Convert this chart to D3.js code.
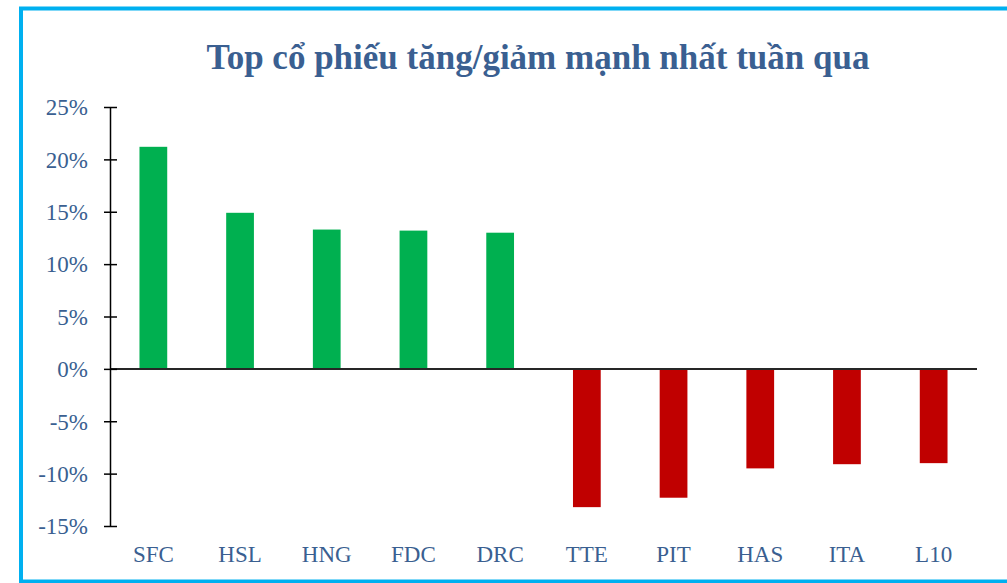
<!DOCTYPE html>
<html>
<head>
<meta charset="utf-8">
<script src="https://cdn.jsdelivr.net/npm/d3@7"></script>
<style>
  body { margin: 0; background: #fff; }
  svg { display: block; }
</style>
</head>
<body>
<div id="chart"></div>
<script>
// data
var tickers = ["SFC", "HSL", "HNG", "FDC", "DRC", "TTE", "PIT", "HAS", "ITA", "L10"];
var changes = [21.2, 14.9, 13.3, 13.2, 13.0, -13.2, -12.3, -9.5, -9.1, -9.0];
var yTicks = [25, 20, 15, 10, 5, 0, -5, -10, -15];
var title = "Top cổ phiếu tăng/giảm mạnh nhất tuần qua";

var svgWidth = 1007, svgHeight = 583;
var serif = "'Liberation Serif', 'Times New Roman', serif";

var svg = d3.select("#chart").append("svg")
  .attr("width", svgWidth)
  .attr("height", svgHeight);

// frame (open on the right, runs off the page)
svg.append("rect")
  .attr("x", 21).attr("y", 8.5)
  .attr("width", 1100).attr("height", 573)
  .attr("fill", "none")
  .attr("stroke", "#00B0F0")
  .attr("stroke-width", 4);
svg.append("line")
  .attr("x1", 21).attr("x2", 1007)
  .attr("y1", 582).attr("y2", 582)
  .attr("stroke", "#00B0F0").attr("stroke-width", 2);

svg.append("text")
  .attr("x", 538).attr("y", 69)
  .attr("text-anchor", "middle")
  .attr("font-family", serif)
  .attr("font-weight", "bold")
  .attr("font-size", 35)
  .attr("fill", "#3A5F91")
  .text(title);

var x = d3.scaleBand()
  .domain(tickers)
  .range([110, 977])
  .paddingInner(0.68)
  .paddingOuter(0.34);

var y = d3.scaleLinear()
  .domain([-15, 25])
  .range([526, 107]);

// bars
svg.selectAll("rect.bar")
  .data(changes)
  .enter().append("rect")
  .attr("class", "bar")
  .attr("x", function(d, i) { return x(tickers[i]); })
  .attr("width", x.bandwidth())
  .attr("y", function(d) { return d >= 0 ? y(d) : y(0); })
  .attr("height", function(d) { return Math.abs(y(d) - y(0)); })
  .attr("fill", function(d) { return d >= 0 ? "#00B050" : "#C00000"; });

// zero line
svg.append("line")
  .attr("x1", 110).attr("x2", 977)
  .attr("y1", y(0)).attr("y2", y(0))
  .attr("stroke", "#262626").attr("stroke-width", 2);

// left axis
var yAxis = svg.append("g")
  .attr("transform", "translate(110,0)")
  .call(d3.axisLeft(y)
    .tickValues(yTicks)
    .tickSizeInner(6)
    .tickSizeOuter(0)
    .tickFormat(function(d) { return d + "%"; }));
yAxis.select(".domain").attr("stroke", "#000").attr("stroke-width", 1.5);
yAxis.selectAll(".tick line")
  .attr("x1", -6).attr("x2", 7)
  .attr("stroke", "#000").attr("stroke-width", 1.5);
yAxis.selectAll(".tick text")
  .attr("x", -22)
  .attr("dy", "0.34em")
  .attr("font-family", serif)
  .attr("font-size", 23)
  .attr("fill", "#3A5F91");

// category labels
svg.selectAll("text.cat")
  .data(tickers)
  .enter().append("text")
  .attr("class", "cat")
  .attr("x", function(d) { return x(d) + x.bandwidth() / 2; })
  .attr("y", 562)
  .attr("text-anchor", "middle")
  .attr("font-family", serif)
  .attr("font-size", 23)
  .attr("fill", "#3A5F91")
  .text(function(d) { return d; });
</script>
</body>
</html>
